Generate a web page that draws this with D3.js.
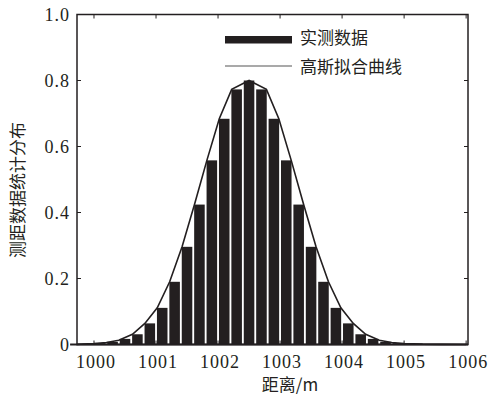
<!DOCTYPE html>
<html>
<head>
<meta charset="utf-8">
<script src="https://cdn.jsdelivr.net/npm/d3@7"></script>
<style>
  body { margin: 0; background: #fff; }
  svg { display: block; }
</style>
</head>
<body>
<div id="chart"></div>
<script>
// bar centres (m) and measured distribution
const barX = [999.7, 999.9, 1000.1, 1000.3, 1000.5, 1000.7, 1000.9, 1001.1, 1001.3, 1001.5,
  1001.7, 1001.9, 1002.1, 1002.3, 1002.5, 1002.7, 1002.9, 1003.1, 1003.3, 1003.5,
  1003.7, 1003.9, 1004.1, 1004.3, 1004.5, 1004.7, 1004.9, 1005.1, 1005.3, 1005.5,
  1005.7, 1005.9];
const barY = [0.001, 0.002, 0.004, 0.008, 0.017, 0.031, 0.064, 0.111, 0.19, 0.296,
  0.424, 0.558, 0.684, 0.773, 0.80, 0.773, 0.684, 0.558, 0.424, 0.296,
  0.19, 0.111, 0.064, 0.031, 0.017, 0.008, 0.004, 0.002, 0.001, 0.0005,
  0.0003, 0.0002];

// gaussian fit curve
const fitX = [999.72, 1000.0, 1000.2, 1000.4, 1000.62, 1000.82, 1001.02, 1001.22, 1001.42, 1001.62,
  1001.82, 1002.02, 1002.22, 1002.5, 1002.78, 1002.98, 1003.18, 1003.38, 1003.58, 1003.78,
  1003.98, 1004.18, 1004.38, 1004.6, 1004.8, 1005.0, 1005.3, 1005.6, 1006.0];
const fitY = [0.0005, 0.003, 0.006, 0.013, 0.031, 0.064, 0.111, 0.19, 0.296, 0.424,
  0.558, 0.684, 0.773, 0.80, 0.773, 0.684, 0.558, 0.424, 0.296, 0.19,
  0.111, 0.064, 0.031, 0.013, 0.006, 0.003, 0.001, 0.0003, 0];

const xTicks = [1000, 1001, 1002, 1003, 1004, 1005, 1006];
const yTicks = [0, 0.2, 0.4, 0.6, 0.8, 1.0];
const legendNames = ['实测数据', '高斯拟合曲线'];
const xTitle = '距离/m';
const yTitle = '测距数据统计分布';

const W = 501, H = 401;
const mLeft = 77, mRight = 468, mTop = 14.5, mBottom = 344.5;
const ink = '#231f20';
const numFont = '"Liberation Serif", "DejaVu Serif", serif';
const cjkFont = '"Noto Sans CJK SC", sans-serif';

const x = d3.scaleLinear().domain([999.726, 1006.03]).range([mLeft, mRight]);
const y = d3.scaleLinear().domain([0, 1]).range([mBottom, mTop]);
const barW = x(1000.17) - x(1000);

const svg = d3.select('#chart').append('svg')
  .attr('width', W).attr('height', H);

// bars
svg.append('g').selectAll('rect')
  .data(barX.map((d, i) => ({x: d, y: barY[i]})))
  .enter().append('rect')
  .attr('x', d => x(d.x) - barW / 2)
  .attr('width', barW)
  .attr('y', d => y(d.y))
  .attr('height', d => y(0) - y(d.y))
  .attr('fill', ink);

// bar baseline
svg.append('line')
  .attr('x1', x(barX[0]) - barW / 2).attr('x2', mRight)
  .attr('y1', y(0)).attr('y2', y(0))
  .attr('stroke', ink).attr('stroke-width', 2);

// fit curve
const line = d3.line()
  .x(d => x(d[0])).y(d => y(d[1]));
svg.append('path')
  .datum(fitX.map((d, i) => [d, fitY[i]]))
  .attr('d', line)
  .attr('fill', 'none')
  .attr('stroke', ink)
  .attr('stroke-width', 1.6);

// frame
svg.append('rect')
  .attr('x', mLeft).attr('y', mTop)
  .attr('width', mRight - mLeft).attr('height', mBottom - mTop)
  .attr('fill', 'none').attr('stroke', ink).attr('stroke-width', 1.5);

// inward ticks on all four sides
const tk = 4;
const ticks = svg.append('g').attr('stroke', ink).attr('stroke-width', 1);
xTicks.forEach(t => {
  ticks.append('line').attr('x1', x(t)).attr('x2', x(t)).attr('y1', mBottom).attr('y2', mBottom - tk);
  ticks.append('line').attr('x1', x(t)).attr('x2', x(t)).attr('y1', mTop).attr('y2', mTop + tk);
});
yTicks.forEach(t => {
  ticks.append('line').attr('x1', mLeft).attr('x2', mLeft + tk).attr('y1', y(t)).attr('y2', y(t));
  ticks.append('line').attr('x1', mRight).attr('x2', mRight - tk).attr('y1', y(t)).attr('y2', y(t));
});

// tick labels
svg.append('g').selectAll('text')
  .data(xTicks).enter().append('text')
  .attr('x', d => x(d) + 2).attr('y', 368)
  .attr('text-anchor', 'middle')
  .attr('font-family', numFont).attr('font-size', 18)
  .attr('letter-spacing', 1)
  .attr('fill', ink)
  .text(d => d);

svg.append('g').selectAll('text')
  .data(yTicks).enter().append('text')
  .attr('x', 70).attr('y', d => y(d) + 6)
  .attr('text-anchor', 'end')
  .attr('font-family', numFont).attr('font-size', 18)
  .attr('letter-spacing', 1)
  .attr('fill', ink)
  .text(d => d === 0 ? '0' : d.toFixed(1));

// axis titles
svg.append('text')
  .attr('x', 290).attr('y', 391)
  .attr('text-anchor', 'middle')
  .attr('font-family', cjkFont).attr('font-size', 17)
  .attr('fill', ink)
  .text(xTitle);

svg.append('text')
  .attr('transform', 'translate(24,190) rotate(-90)')
  .attr('text-anchor', 'middle')
  .attr('font-family', cjkFont).attr('font-size', 17)
  .attr('fill', ink)
  .text(yTitle);

// legend
const lg = svg.append('g');
lg.append('rect')
  .attr('x', 225).attr('y', 36).attr('width', 67).attr('height', 7.5)
  .attr('fill', ink);
lg.append('line')
  .attr('x1', 225).attr('x2', 292).attr('y1', 66).attr('y2', 66)
  .attr('stroke', '#555').attr('stroke-width', 1.2);
lg.selectAll('text')
  .data(legendNames).enter().append('text')
  .attr('x', 300).attr('y', (d, i) => 44 + i * 29)
  .attr('font-family', cjkFont).attr('font-size', 17)
  .attr('fill', ink)
  .text(d => d);
</script>
</body>
</html>
